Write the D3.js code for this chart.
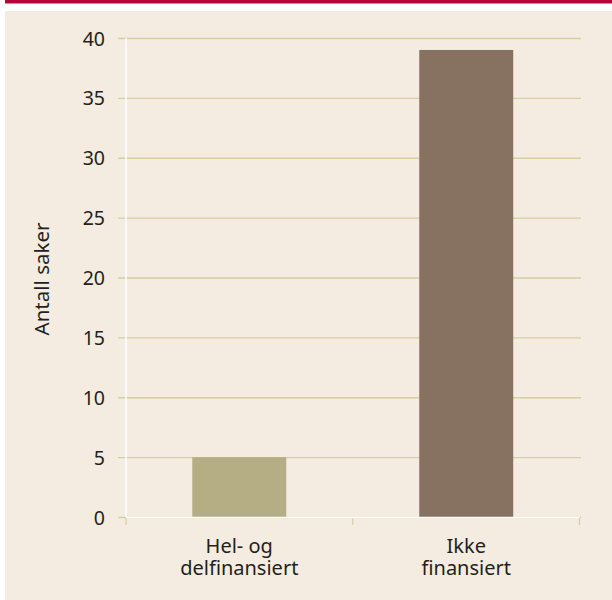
<!DOCTYPE html>
<html>
<head>
<meta charset="utf-8">
<script src="https://cdn.jsdelivr.net/npm/d3@7"></script>
<style>
  html, body { margin: 0; padding: 0; background: #ffffff; }
  svg { display: block; }
  text { font-family: "Noto Sans", "Open Sans", sans-serif; fill: #231f20; }
</style>
</head>
<body>
<svg id="chart" width="612" height="600"></svg>
<script>
// Number of cases by financing status
const categories = [["Hel- og", "delfinansiert"], ["Ikke", "finansiert"]];
const values = [5, 39];
const barColors = ["#b5ad84", "#877261"];
const yTicks = [0, 5, 10, 15, 20, 25, 30, 35, 40];
const yLabel = "Antall saker";

const svg = d3.select("#chart");

// Header band and panel background
svg.append("rect").attr("x", 5).attr("y", 0).attr("width", 607).attr("height", 3.5).attr("fill", "#b0063a");
svg.append("rect").attr("x", 5).attr("y", 11).attr("width", 607).attr("height", 589).attr("fill", "#f4ece0");

const plot = { left: 126, right: 579.5, top: 38, bottom: 517 };

const x = d3.scaleBand()
  .domain(d3.range(values.length))
  .range([plot.left, plot.right])
  .paddingInner(0.586)
  .paddingOuter(0.292);

const y = d3.scaleLinear().domain([0, 40]).range([plot.bottom, plot.top]);

// Horizontal gridlines with their ticks extending left of the axis
const yAxis = d3.axisLeft(y)
  .tickValues(yTicks)
  .tickSize(0)
  .tickPadding(0)
  .tickFormat(d3.format("d"));

const gy = svg.append("g")
  .attr("transform", `translate(${plot.left - 8},0)`)
  .call(yAxis);
gy.select(".domain").remove();
gy.selectAll(".tick line")
  .attr("x1", 0)
  .attr("x2", plot.right + 1.5 - plot.left + 8)
  .attr("stroke", "#d6cda4")
  .attr("stroke-width", 1.4);
gy.selectAll(".tick text")
  .attr("x", -13)
  .attr("dy", "0.36em")
  .attr("font-size", 19.5)
  .style("font-family", "'Noto Sans', sans-serif")
  .attr("fill", "#231f20");

// Bars
svg.append("g").selectAll("rect")
  .data(values)
  .join("rect")
  .attr("x", (d, i) => x(i))
  .attr("width", x.bandwidth())
  .attr("y", d => y(d))
  .attr("height", d => y(0) - y(d))
  .attr("fill", (d, i) => barColors[i]);

// White axis lines
svg.append("line")
  .attr("x1", plot.left).attr("x2", plot.left)
  .attr("y1", plot.top).attr("y2", plot.bottom)
  .attr("stroke", "#ffffff").attr("stroke-width", 1.5);
svg.append("line")
  .attr("x1", plot.left).attr("x2", plot.right)
  .attr("y1", plot.bottom + 0.5).attr("y2", plot.bottom + 0.5)
  .attr("stroke", "#ffffff").attr("stroke-width", 1.5);

// Category boundary ticks below the x-axis
const boundaries = [plot.left, (x(0) + x.bandwidth() + x(1)) / 2, plot.right];
svg.append("g").selectAll("line")
  .data(boundaries)
  .join("line")
  .attr("x1", d => d).attr("x2", d => d)
  .attr("y1", plot.bottom + 1.5).attr("y2", plot.bottom + 8)
  .attr("stroke", "#d6cda4").attr("stroke-width", 1.2);

// Category labels, one text element per line
const labelLines = categories.flatMap((lines, i) => lines.map((t, j) => ({ i, j, t })));
svg.append("g").selectAll("text")
  .data(labelLines)
  .join("text")
  .attr("x", d => x(d.i) + x.bandwidth() / 2)
  .attr("y", d => 552.5 + d.j * 22.5)
  .attr("text-anchor", "middle")
  .attr("font-size", 20)
  .text(d => d.t);

// Y-axis title
svg.append("text")
  .attr("transform", "translate(49,279) rotate(-90)")
  .attr("text-anchor", "middle")
  .attr("font-size", 20.5)
  .text(yLabel);
</script>
</body>
</html>
